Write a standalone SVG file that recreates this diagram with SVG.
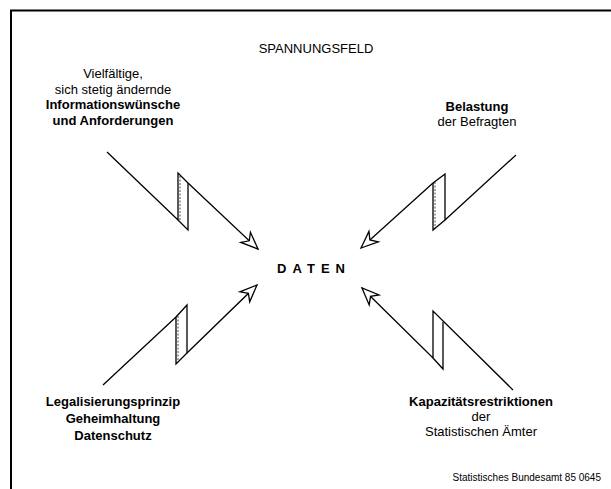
<svg xmlns="http://www.w3.org/2000/svg" width="611" height="489" viewBox="0 0 611 489">
<style>
text{font-family:"Liberation Sans",Arial,sans-serif;font-size:13px;fill:#000;text-anchor:middle}
.b{font-weight:bold}
.bolt{fill:none;stroke:#000;stroke-width:1.3;stroke-linejoin:miter}
.shade{fill:none;stroke:#000;stroke-width:0.7;stroke-dasharray:2 1.5}
.frame{stroke:#000;stroke-width:2;fill:none}
</style>
<defs>
<marker id="head" markerUnits="userSpaceOnUse" markerWidth="22" markerHeight="18" refX="19" refY="9" orient="auto" overflow="visible">
<path d="M19,9 L2,2 L7,9 L2,16 Z" fill="#fff" stroke="#000" stroke-width="1.3" stroke-linejoin="miter"/>
</marker>
</defs>
<rect width="611" height="489" fill="#fff"/>
<path class="frame" d="M11,489 L11,10.5 L611,10.5"/>
<g id="title"><text x="316" y="53">SPANNUNGSFELD</text></g>
<g id="node-informationswuensche">
<text x="113" y="78">Vielfältige,</text>
<text x="113" y="93.5">sich stetig ändernde</text>
<text class="b" x="113" y="109">Informationswünsche</text>
<text class="b" x="113" y="124.5">und Anforderungen</text>
</g>
<g id="node-belastung">
<text class="b" x="477" y="111">Belastung</text>
<text x="477" y="126">der Befragten</text>
</g>
<g id="node-daten"><text class="b" x="311" y="273" textLength="68" lengthAdjust="spacing">DATEN</text></g>
<g id="node-legalisierung">
<text class="b" x="113" y="406">Legalisierungsprinzip</text>
<text class="b" x="113" y="423">Geheimhaltung</text>
<text class="b" x="113" y="440">Datenschutz</text>
</g>
<g id="node-kapazitaet">
<text class="b" x="481" y="406">Kapazitätsrestriktionen</text>
<text x="481" y="421">der</text>
<text x="481" y="436">Statistischen Ämter</text>
</g>
<g id="footer"><text x="601" y="481" style="text-anchor:end;font-size:10px">Statistisches Bundesamt 85 0645</text></g>
<g id="connectors">
<path class="bolt" d="M107,152 L178,220 L178,173 L188,183 L258,249" marker-end="url(#head)"/>
<path class="bolt" d="M178,220 L188,230 L188,183"/>
<path class="shade" d="M180,176 L180,221"/>
<path class="bolt" d="M516,155 L445,220 L445,174 L433,183 L361,248" marker-end="url(#head)"/>
<path class="bolt" d="M445,220 L433,230 L433,183"/>
<path class="shade" d="M435,182 L435,228"/>
<path class="bolt" d="M103,385 L176,317 L176,364 L187,353 L257,285" marker-end="url(#head)"/>
<path class="bolt" d="M176,317 L187,305 L187,353"/>
<path class="shade" d="M178,316 L178,362"/>
<path class="bolt" d="M513,390 L433,311 L433,358 L362,288" marker-end="url(#head)"/>
<path class="bolt" d="M443,322 L443,369 L433,358"/>
</g>
</svg>
